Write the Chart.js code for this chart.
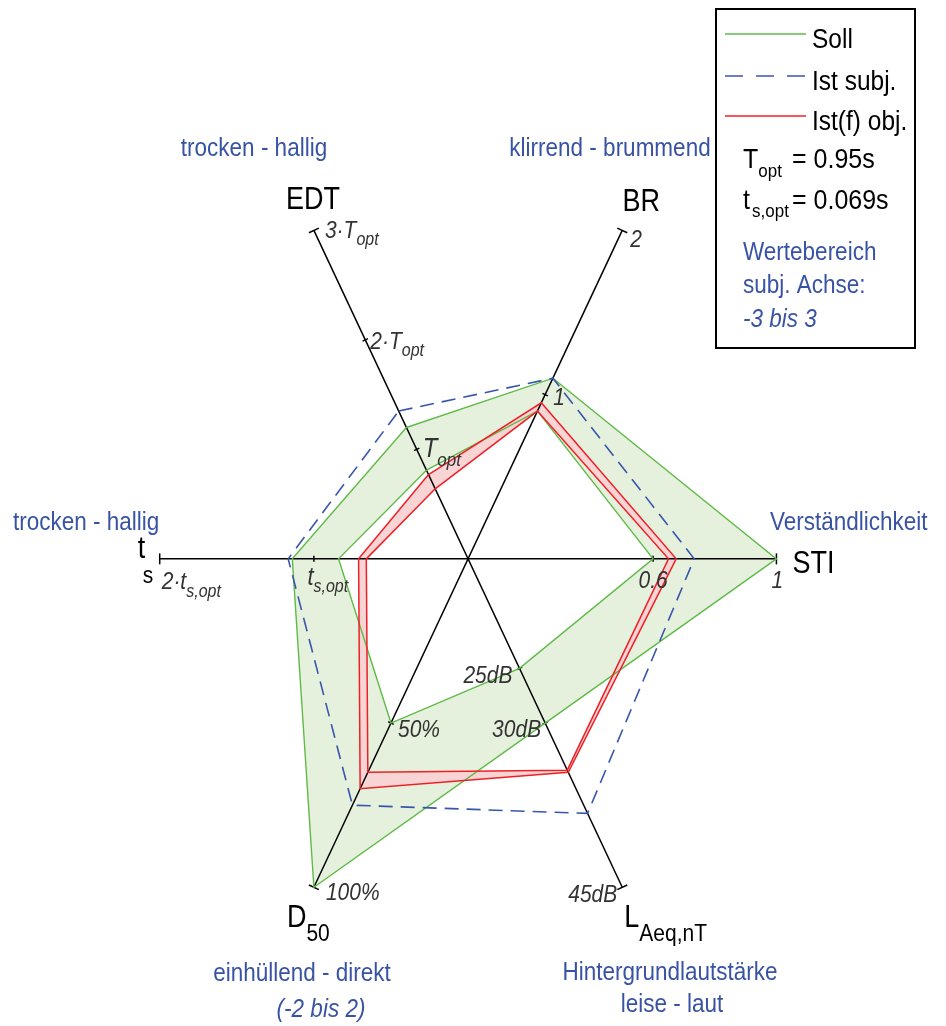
<!DOCTYPE html>
<html>
<head>
<meta charset="utf-8">
<script src="https://cdn.jsdelivr.net/npm/chart.js@4/dist/chart.umd.min.js"></script>
<style>
  html, body { margin: 0; padding: 0; background: #fff; }
  #wrap { width: 946px; height: 1026px; }
</style>
</head>
<body>
<div id="wrap"><canvas id="c" width="946" height="1026"></canvas></div>
<script>
// Six axes, clockwise from the upper left
const axisNames  = ['EDT', 'BR', 'STI', 'LAeq,nT', 'D50', 'ts'];
const axisAngles = [-30, 30, 90, 150, 210, 270];          // degrees, clockwise from top
const axisMin    = [0, 0, 0, 15, 0, 0];
const axisMax    = [3, 2, 1, 45, 100, 2];                 // EDT in T_opt, ts in t_s,opt, dB, %
const axisTicks  = [[1, 2], [1], [0.6], [25, 30], [50], [1]];
// subjective rating range per axis (centre .. end of axis)
const subjMin    = [-3, -3, -3, -3, -2, -3];
const subjMax    = [3, 3, 3, 3, 2, 3];

// Soll: target corridor (upper / lower limit)
const sollUpper   = [1.2, 1.1, 1.0, 30, 100, 1.14];
const sollLower   = [0.81, 0.9, 0.6, 25, 50, 0.84];
// Ist(f) obj.: measured range over frequency
const istObjUpper = [0.77, 0.95, 0.675, 34.5, 70, 0.71];
const istObjLower = [0.64, 0.9, 0.65, 34.3, 65, 0.66];
// Ist subj.: subjective rating
const istSubj     = [-0.3, 0.3, 1.4, 1.65, 1.0, 0.5];

const GREEN = 'rgb(96, 186, 72)';
const GREEN_FILL = 'rgb(229, 241, 221)';
const RED = 'rgb(238, 32, 38)';
const RED_FILL = 'rgb(249, 212, 213)';
const BLUE_DASH = 'rgb(56, 86, 172)';
const BLUE_TEXT = 'rgb(57, 83, 164)';
const TICK_TEXT = '#333';
const SY = 1.13;   // glyphs are set slightly tall

const frac = (i, v) => (v - axisMin[i]) / (axisMax[i] - axisMin[i]);
const fracSubj = (i, v) => (v - subjMin[i]) / (subjMax[i] - subjMin[i]);
function pt(i, f) {
  const a = axisAngles[i] * Math.PI / 180;
  return { x: f * Math.sin(a), y: f * Math.cos(a) };
}
function polygon(vals, fn) {
  const p = vals.map((v, i) => pt(i, fn(i, v)));
  p.push(p[0]);
  return p;
}
// outer loop followed by the inner loop in reverse -> filled band with a hole
function ring(outer, inner) { return outer.concat(inner.slice().reverse()); }

const sollUp = polygon(sollUpper, frac), sollLo = polygon(sollLower, frac);
const objUp = polygon(istObjUpper, frac), objLo = polygon(istObjLower, frac);
const subj = polygon(istSubj, fracSubj);

const axisLines = [0, 1, 2].map(i => [pt(i, 1), pt(i + 3, 1)]);
const tickPoints = [];
axisTicks.forEach((ts, i) => {
  ts.forEach(v => { const p = pt(i, frac(i, v)); tickPoints.push({ x: p.x, y: p.y, axis: i, len: 3 }); });
  const e = pt(i, 1); tickPoints.push({ x: e.x, y: e.y, axis: i, len: 5.5 });
});

function tickRotation(c) {
  const ch = c.chart, sx = ch.scales.x, sy = ch.scales.y;
  const kx = sx.getPixelForValue(1) - sx.getPixelForValue(0);
  const ky = sy.getPixelForValue(1) - sy.getPixelForValue(0);
  const a = axisAngles[c.raw.axis] * Math.PI / 180;
  return Math.atan2(Math.cos(a) * ky, Math.sin(a) * kx) * 180 / Math.PI + 90;
}

const base = { showLine: true, pointRadius: 0, tension: 0, fill: false };
const datasets = [
  Object.assign({}, base, { data: ring(sollUp, sollLo), fill: 'shape', backgroundColor: GREEN_FILL, borderWidth: 0, borderColor: 'transparent', order: 20 }),
  Object.assign({}, base, { data: ring(objUp, objLo), fill: 'shape', backgroundColor: RED_FILL, borderWidth: 0, borderColor: 'transparent', order: 19 }),
  ...axisLines.map(l => Object.assign({}, base, { data: l, borderColor: '#000', borderWidth: 1.5, order: 15 })),
  { data: tickPoints, showLine: false, pointStyle: 'line', pointRadius: c => c.raw.len, pointRotation: tickRotation,
    pointBorderColor: '#000', pointBorderWidth: 1.5, order: 14 },
  Object.assign({}, base, { label: 'Soll', legendRow: 0, data: sollUp, borderColor: GREEN, borderWidth: 1.4, order: 6 }),
  Object.assign({}, base, { data: sollLo, borderColor: GREEN, borderWidth: 1.4, order: 6 }),
  Object.assign({}, base, { label: 'Ist subj.', legendRow: 1, data: subj, borderColor: BLUE_DASH, borderWidth: 1.6, borderDash: [14, 8], order: 5 }),
  Object.assign({}, base, { label: 'Ist(f) obj.', legendRow: 2, data: objUp, borderColor: RED, borderWidth: 1.5, order: 3 }),
  Object.assign({}, base, { data: objLo, borderColor: RED, borderWidth: 1.5, order: 3 })
];

const F = (size, italic) => (italic ? 'italic ' : '') + size + 'px "Liberation Sans", Arial, sans-serif';

// draws a run of text pieces [text, font, dy]; subscripts via dy
function run(ctx, x, y, parts, color, align) {
  ctx.save();
  ctx.fillStyle = color;
  ctx.textBaseline = 'alphabetic';
  ctx.textAlign = 'left';
  let w = 0;
  parts.forEach(p => { ctx.font = p[1]; w += ctx.measureText(p[0]).width; });
  let cx = align === 'center' ? x - w / 2 : align === 'right' ? x - w : x;
  parts.forEach(p => {
    ctx.font = p[1];
    ctx.save();
    ctx.translate(cx, y + (p[2] || 0));
    ctx.scale(1, SY);
    ctx.fillText(p[0], 0, 0);
    ctx.restore();
    cx += ctx.measureText(p[0]).width;
  });
  ctx.restore();
}

const textPlugin = {
  id: 'diagramText',
  afterDraw(chart) {
    const ctx = chart.ctx, sx = chart.scales.x, sy = chart.scales.y;
    const P = (i, f) => { const p = pt(i, f); return { x: sx.getPixelForValue(p.x), y: sy.getPixelForValue(p.y) }; };
    const E = axisNames.map((_, i) => P(i, 1));
    const T = (i, v) => P(i, frac(i, v));
    let p;

    // EDT
    run(ctx, E[0].x - 1, E[0].y - 21, [['EDT', F(27)]], '#000', 'center');
    run(ctx, E[0].x + 11, E[0].y + 8, [['3·T', F(21, 1)], ['opt', F(16, 1), 7]], TICK_TEXT);
    p = T(0, 2); run(ctx, p.x + 5, p.y + 9, [['2·T', F(21, 1)], ['opt', F(16, 1), 7]], TICK_TEXT);
    p = T(0, 1); run(ctx, p.x + 6, p.y + 8, [['T', F(24, 1)], ['opt', F(17, 1), 9]], TICK_TEXT);

    // BR
    run(ctx, E[1].x + 19, E[1].y - 19, [['BR', F(27)]], '#000', 'center');
    run(ctx, E[1].x + 8, E[1].y + 17, [['2', F(21, 1)]], TICK_TEXT);
    p = T(1, 1); run(ctx, p.x + 8, p.y + 10, [['1', F(21, 1)]], TICK_TEXT);

    // STI
    run(ctx, E[2].x + 16, E[2].y + 14, [['STI', F(27)]], '#000');
    run(ctx, E[2].x + 1, E[2].y + 29, [['1', F(21, 1)]], TICK_TEXT, 'center');
    p = T(2, 0.6); run(ctx, p.x, p.y + 29, [['0.6', F(21, 1)]], TICK_TEXT, 'center');

    // LAeq,nT
    run(ctx, E[3].x - 5, E[3].y + 15, [['45dB', F(21, 1)]], TICK_TEXT, 'right');
    run(ctx, E[3].x + 2, E[3].y + 40, [['L', F(27)], ['Aeq,nT', F(21), 14]], '#000');
    p = T(3, 25); run(ctx, p.x - 7, p.y + 14.5, [['25dB', F(21, 1)]], TICK_TEXT, 'right');
    p = T(3, 30); run(ctx, p.x - 4, p.y + 14, [['30dB', F(21, 1)]], TICK_TEXT, 'right');

    // D50
    run(ctx, E[4].x + 12, E[4].y + 13, [['100%', F(21, 1)]], TICK_TEXT);
    run(ctx, E[4].x - 27, E[4].y + 40, [['D', F(27)], ['50', F(21), 14]], '#000');
    p = T(4, 50); run(ctx, p.x + 7, p.y + 14, [['50%', F(21, 1)]], TICK_TEXT);

    // ts
    run(ctx, E[5].x - 22, E[5].y - 1, [['t', F(27)]], '#000');
    run(ctx, E[5].x - 17, E[5].y + 24, [['s', F(21)]], '#000');
    run(ctx, E[5].x + 2, E[5].y + 30.5, [['2·t', F(21, 1)], ['s,opt', F(16, 1), 8]], TICK_TEXT);
    p = T(5, 1); run(ctx, p.x - 6.5, p.y + 26, [['t', F(22, 1)], ['s,opt', F(16, 1), 7]], TICK_TEXT);

    // descriptive captions
    run(ctx, 254, 156, [['trocken - hallig', F(22.5)]], BLUE_TEXT, 'center');
    run(ctx, 610, 156, [['klirrend - brummend', F(22.5)]], BLUE_TEXT, 'center');
    run(ctx, 13, 530, [['trocken - hallig', F(22.5)]], BLUE_TEXT);
    run(ctx, 770, 530, [['Verständlichkeit', F(22.5)]], BLUE_TEXT);
    run(ctx, 302, 981, [['einhüllend - direkt', F(22.5)]], BLUE_TEXT, 'center');
    run(ctx, 321, 1017, [['(-2 bis 2)', F(22.5, 1)]], BLUE_TEXT, 'center');
    run(ctx, 670, 980, [['Hintergrundlautstärke', F(22.5)]], BLUE_TEXT, 'center');
    run(ctx, 672, 1012, [['leise - laut', F(22.5)]], BLUE_TEXT, 'center');

    // legend box
    ctx.save();
    ctx.strokeStyle = '#000';
    ctx.lineWidth = 2;
    ctx.strokeRect(716, 9, 199, 339);
    const rows = [34, 76, 116];
    chart.data.datasets.filter(d => d.legendRow !== undefined).forEach(d => {
      const y = rows[d.legendRow];
      ctx.save();
      ctx.strokeStyle = d.borderColor;
      ctx.lineWidth = d.borderWidth;
      ctx.setLineDash(d.borderDash ? [18, 13] : []);
      ctx.beginPath(); ctx.moveTo(725, y); ctx.lineTo(806, y); ctx.stroke();
      ctx.restore();
      run(ctx, 812, y + 14, [[d.label, F(24.5)]], '#000');
    });
    ctx.restore();
    run(ctx, 743, 168, [['T', F(25)], ['opt', F(17), 9]], '#000');
    run(ctx, 792, 168, [['= 0.95s', F(25)]], '#000');
    run(ctx, 743, 209, [['t', F(25)]], '#000');
    run(ctx, 752, 217, [['s,opt', F(17)]], '#000');
    run(ctx, 792, 209, [['= 0.069s', F(25)]], '#000');
    run(ctx, 743, 260, [['Wertebereich', F(22.5)]], BLUE_TEXT);
    run(ctx, 743, 293, [['subj. Achse:', F(22.5)]], BLUE_TEXT);
    run(ctx, 743, 327, [['-3 bis 3', F(22.5, 1)]], BLUE_TEXT);
  }
};

new Chart(document.getElementById('c'), {
  type: 'scatter',
  data: { datasets },
  options: {
    responsive: false,
    animation: false,
    events: [],
    layout: { padding: 0 },
    scales: {
      x: { type: 'linear', min: -1.4952, max: 1.5272, display: false },
      y: { type: 'linear', min: -1.2133, max: 1.4551, display: false }
    },
    plugins: { legend: { display: false }, tooltip: { enabled: false } }
  },
  plugins: [textPlugin]
});
</script>
</body>
</html>
